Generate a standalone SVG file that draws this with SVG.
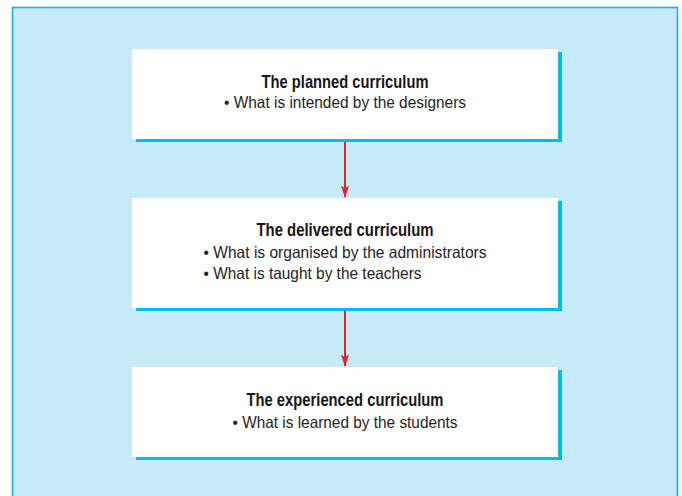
<svg xmlns="http://www.w3.org/2000/svg" width="682" height="496" viewBox="0 0 682 496">
<style>
.panel{fill:#c7eaf9;stroke:#19b3ea;stroke-width:1.6}
.shadow{fill:#00bbef}
.box{fill:#ffffff}
.title{font-family:"Liberation Sans",Arial,sans-serif;font-weight:bold;font-size:18px;fill:#161616}
.item{font-family:"Liberation Sans",Arial,sans-serif;font-size:16.5px;fill:#1e1e1e}
.conn{stroke:#e5212b;stroke-width:2;fill:none}
</style>
<defs>
<marker id="arr" markerUnits="userSpaceOnUse" markerWidth="12" markerHeight="18" refX="17" refY="6" viewBox="0 0 18 12" orient="auto">
<path d="M0,0 L18,6 L0,12 L4,6 Z" fill="#e5212b"/>
</marker>
</defs>
<rect class="panel" x="12.5" y="7.5" width="665" height="495"/>
<g id="connectors">
<line class="conn" x1="345" y1="139" x2="345" y2="197" marker-end="url(#arr)"/>
<line class="conn" x1="345" y1="308" x2="345" y2="366" marker-end="url(#arr)"/>
</g>
<g id="planned">
<rect class="shadow" x="136" y="52" width="426" height="90"/>
<rect class="box" x="132" y="49" width="426" height="90"/>
<text class="title" x="345" y="88" text-anchor="middle" textLength="167" lengthAdjust="spacingAndGlyphs">The planned curriculum</text>
<text class="item" x="345" y="108" text-anchor="middle" textLength="242" lengthAdjust="spacingAndGlyphs">• What is intended by the designers</text>
</g>
<g id="delivered">
<rect class="shadow" x="136" y="201" width="426" height="110"/>
<rect class="box" x="132" y="198" width="426" height="110"/>
<text class="title" x="345" y="236" text-anchor="middle" textLength="177" lengthAdjust="spacingAndGlyphs">The delivered curriculum</text>
<text class="item" x="203.5" y="257.5" textLength="283" lengthAdjust="spacingAndGlyphs">• What is organised by the administrators</text>
<text class="item" x="203.5" y="278.5" textLength="218" lengthAdjust="spacingAndGlyphs">• What is taught by the teachers</text>
</g>
<g id="experienced">
<rect class="shadow" x="136" y="370" width="426" height="90"/>
<rect class="box" x="132" y="367" width="426" height="90"/>
<text class="title" x="345" y="406" text-anchor="middle" textLength="197" lengthAdjust="spacingAndGlyphs">The experienced curriculum</text>
<text class="item" x="345" y="428" text-anchor="middle" textLength="225" lengthAdjust="spacingAndGlyphs">• What is learned by the students</text>
</g>
</svg>
